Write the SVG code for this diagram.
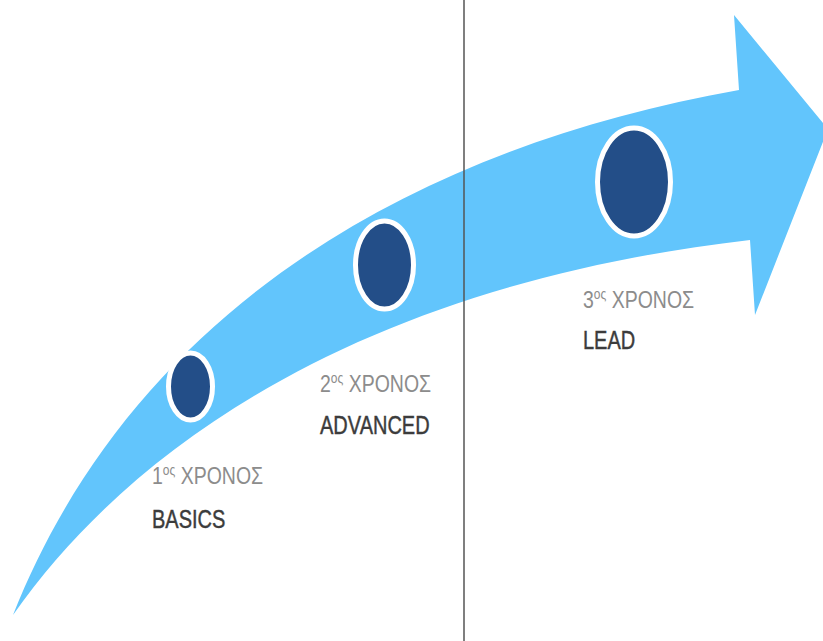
<svg xmlns="http://www.w3.org/2000/svg" width="823" height="641" viewBox="0 0 823 641">
  <style>
    .band { fill: #62c5fc; }
    .dot { fill: #234e88; stroke: #ffffff; stroke-width: 5; }
    .year { font-family: "Liberation Sans", Arial, sans-serif; font-size: 19.5px; fill: #8c8c8c; }
    .sup { font-size: 12px; }
    .stage { font-family: "Liberation Sans", Arial, sans-serif; font-size: 20px; fill: #3c3c3c; stroke: #3c3c3c; stroke-width: 0.35; }
    .divider { stroke: #555555; stroke-width: 1.5; }
  </style>

  <!-- curved progress arrow -->
  <g id="arrow">
    <path class="band" d="M13,615 C130,320 400,150 739,90 L734,15 L828,129 L755,315 L750,240 C400,280 150,420 13,615 Z"/>
  </g>

  <!-- vertical divider -->
  <g id="connectors">
    <line class="divider" x1="464" y1="0" x2="464" y2="641"/>
  </g>

  <g id="milestone-1">
    <ellipse class="dot" cx="190.5" cy="386.5" rx="22" ry="33.5"/>
    <g transform="translate(152,484) scale(1,1.27)">
      <text class="year" x="0" y="0">1<tspan class="sup" dy="-7">ος</tspan><tspan dy="7"> ΧΡΟΝΟΣ</tspan></text>
    </g>
    <g transform="translate(152,528) scale(1,1.27)">
      <text class="stage" x="0" y="0">BASICS</text>
    </g>
  </g>

  <g id="milestone-2">
    <ellipse class="dot" cx="384.5" cy="265" rx="29" ry="44"/>
    <g transform="translate(320,392) scale(1,1.27)">
      <text class="year" x="0" y="0">2<tspan class="sup" dy="-7">ος</tspan><tspan dy="7"> ΧΡΟΝΟΣ</tspan></text>
    </g>
    <g transform="translate(320,434) scale(1,1.27)">
      <text class="stage" x="0" y="0">ADVANCED</text>
    </g>
  </g>

  <g id="milestone-3">
    <ellipse class="dot" cx="634" cy="182" rx="36.5" ry="54"/>
    <g transform="translate(583,308) scale(1,1.27)">
      <text class="year" x="0" y="0">3<tspan class="sup" dy="-7">ος</tspan><tspan dy="7"> ΧΡΟΝΟΣ</tspan></text>
    </g>
    <g transform="translate(583,349) scale(1,1.27)">
      <text class="stage" x="0" y="0">LEAD</text>
    </g>
  </g>
</svg>
